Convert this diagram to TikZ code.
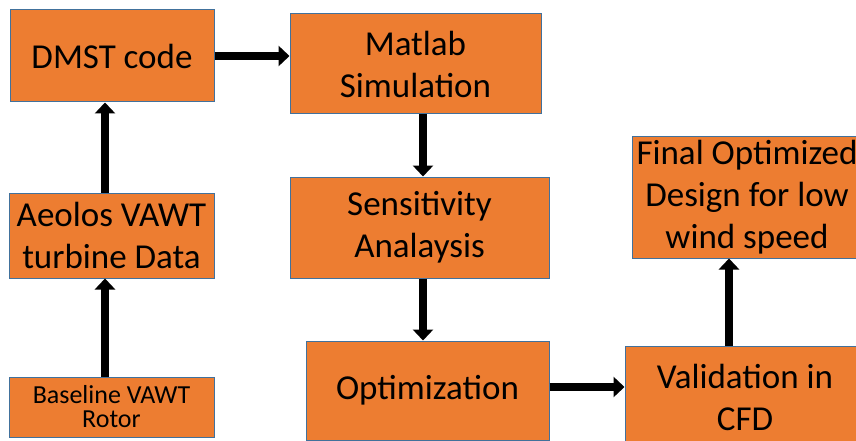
\documentclass[tikz,border=0pt]{standalone}
\usepackage{fontspec}
\setmainfont{Carlito}
\usetikzlibrary{arrows.meta}
\definecolor{boxfill}{HTML}{ED7D31}
\definecolor{boxline}{HTML}{41719C}
\begin{document}
\begin{tikzpicture}[x=1pt,y=1pt]
\tikzstyle{every node}+=[inner sep=0pt]
\tikzstyle{stage}=[draw=boxline,fill=boxfill,line width=1pt,align=center,font=\fontsize{35}{42}\selectfont]
\tikzstyle{arr}=[line width=8pt,-{Triangle[width=20pt,length=11pt]}]
\useasboundingbox (0,0) rectangle (856,-441);
\clip (0,0) rectangle (856,-441);
\node [stage,minimum width=204,minimum height=92] (dmst) at (112,-56) {DMST code};
\node [stage,minimum width=251,minimum height=100] (matlab) at (415.5,-64) {Matlab\\Simulation};
\node [stage,minimum width=259,minimum height=101] (sens) at (419.5,-227.5) {Sensitivity\\Analaysis};
\node [stage,minimum width=205,minimum height=85] (aeolos) at (111.5,-235.5) {Aeolos VAWT\\turbine Data};
\node [stage,minimum width=205,minimum height=60,font=\fontsize{26}{24}\selectfont] (base) at (111.5,-407) {Baseline VAWT\\Rotor};
\node [stage,minimum width=243,minimum height=99] (optim) at (427.5,-390.5) {Optimization};
\node [stage,minimum width=240,minimum height=102] (valid) at (745,-397) {Validation in\\CFD};
\node [stage,minimum width=230,minimum height=122] (final) at (747,-197) {Final Optimized\\Design for low\\wind speed};
\draw [arr] (base.north -| 105,0) -- (aeolos.south -| 105,0);
\draw [arr] (aeolos.north -| 105,0) -- (dmst.south -| 105,0);
\draw [arr] (dmst.east) -- (dmst.east -| matlab.west);
\draw [arr] (matlab.south -| 423,0) -- (sens.north -| 423,0);
\draw [arr] (sens.south -| 423,0) -- (optim.north -| 423,0);
\draw [arr] (optim.east |- 0,-387) -- (valid.west |- 0,-387);
\draw [arr] (valid.north -| 729,0) -- (final.south -| 729,0);
\end{tikzpicture}
\end{document}
